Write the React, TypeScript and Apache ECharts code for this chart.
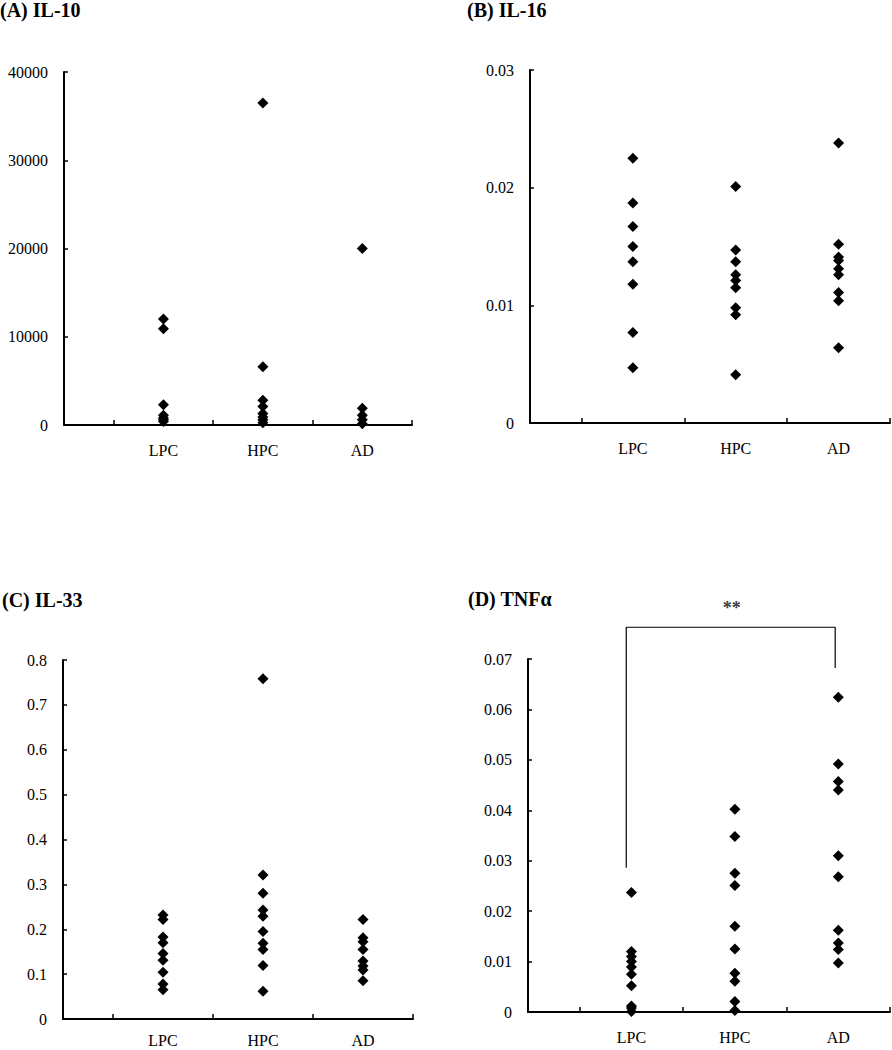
import React, { useEffect, useRef } from "react";
import * as echarts from "echarts";

const categories = ["LPC", "HPC", "AD"];
const categoryPositions = [1, 2, 3];
const xTickPositions = [0.5, 1.5, 2.5, 3.5];

const panelTitles = ["(A) IL-10", "(B) IL-16", "(C) IL-33", "(D) TNF\u03b1"];

const il10LPC = [12000, 10900, 2300, 1100, 800, 600, 400];
const il10HPC = [36500, 6600, 2800, 2100, 1300, 900, 600, 250];
const il10AD = [20000, 1900, 1100, 600, 150];

const il16LPC = [0.0225, 0.0187, 0.0167, 0.015, 0.0137, 0.0118, 0.0077, 0.0047];
const il16HPC = [0.0201, 0.0147, 0.0137, 0.0126, 0.0121, 0.0115, 0.0098, 0.0092, 0.0041];
const il16AD = [0.0238, 0.0152, 0.0141, 0.0138, 0.0131, 0.0126, 0.0111, 0.0104, 0.0064];

const il33LPC = [0.232, 0.222, 0.183, 0.17, 0.146, 0.131, 0.104, 0.078, 0.065];
const il33HPC = [0.758, 0.321, 0.28, 0.243, 0.229, 0.195, 0.169, 0.155, 0.119, 0.062];
const il33AD = [0.222, 0.181, 0.172, 0.155, 0.129, 0.118, 0.109, 0.085];

const tnfLPC = [0.0237, 0.012, 0.011, 0.01, 0.0089, 0.0075, 0.0052, 0.0012, 0.0008, 0.0001];
const tnfHPC = [0.0402, 0.0348, 0.0275, 0.0251, 0.017, 0.0125, 0.0077, 0.0061, 0.0021, 0.0003];
const tnfAD = [0.0624, 0.0492, 0.0457, 0.044, 0.031, 0.0268, 0.0162, 0.0137, 0.0124, 0.0097];

const yMax = [40000, 0.03, 0.8, 0.07];
const yInterval = [10000, 0.01, 0.1, 0.01];

// significance bracket between LPC and AD in panel D (x, value)
const bracketD = [
  [0.95, 0.0286],
  [0.95, 0.0763],
  [2.97, 0.0763],
  [2.97, 0.0682],
];
const significanceLabel = "**";
const significancePoint = [1.97, 0.0802];

const panelGroups = [
  [il10LPC, il10HPC, il10AD],
  [il16LPC, il16HPC, il16AD],
  [il33LPC, il33HPC, il33AD],
  [tnfLPC, tnfHPC, tnfAD],
];

const grids = [
  { left: 64, top: 72, width: 348, height: 353 },
  { left: 530, top: 70, width: 360, height: 353 },
  { left: 63, top: 660, width: 350, height: 359 },
  { left: 528, top: 659, width: 362, height: 353 },
];
const xLabelMargin = [17, 17, 13, 17];

const titlePos = [
  { left: 0, top: 0 },
  { left: 467, top: 0 },
  { left: 2, top: 590 },
  { left: 468, top: 589 },
];

const FONT = "'Liberation Serif', 'Times New Roman', serif";

function fmt(v: number) {
  return String(parseFloat(v.toPrecision(10)));
}

export default function App() {
  const ref = useRef<HTMLDivElement>(null);
  useEffect(() => {
    if (!ref.current) return;
    const chart = echarts.init(ref.current, null, { renderer: "svg" });

    const series: any[] = [];
    panelGroups.forEach((groups, p) => {
      const data: number[][] = [];
      groups.forEach((vals, g) => {
        vals.forEach((v) => data.push([categoryPositions[g], v]));
      });
      series.push({
        type: "scatter",
        xAxisIndex: p,
        yAxisIndex: p,
        symbol: "diamond",
        symbolSize: 11,
        itemStyle: { color: "#000", opacity: 1 },
        data,
      });
    });
    series.push({
      type: "line",
      xAxisIndex: 3,
      yAxisIndex: 3,
      clip: false,
      symbol: "none",
      lineStyle: { color: "#000", width: 1.2 },
      data: bracketD,
    });
    series.push({
      type: "scatter",
      xAxisIndex: 3,
      yAxisIndex: 3,
      clip: false,
      symbolSize: 1,
      itemStyle: { color: "rgba(0,0,0,0)" },
      label: {
        show: true,
        position: "inside",
        formatter: significanceLabel,
        color: "#000",
        fontFamily: FONT,
        fontSize: 18,
        fontWeight: "bold",
      },
      data: [significancePoint],
    });

    const option: any = {
      animation: false,
      backgroundColor: "#fff",
      title: panelTitles.map((t, i) => ({
        text: t,
        left: titlePos[i].left,
        top: titlePos[i].top,
        padding: 0,
        textStyle: {
          fontFamily: FONT,
          fontWeight: "bold",
          fontSize: 20,
          color: "#000",
        },
      })),
      grid: grids.map((g) => ({ ...g, containLabel: false, outerBoundsMode: "none" })),
      xAxis: grids.map((_, i) => ({
        type: "value",
        gridIndex: i,
        min: 0,
        max: 3.5,
        splitLine: { show: false },
        axisLine: { show: true, onZero: false, lineStyle: { color: "#000", width: 2 } },
        axisTick: {
          show: true,
          inside: true,
          length: 5,
          customValues: xTickPositions,
          lineStyle: { color: "#000", width: 1.5 },
        },
        axisLabel: {
          show: true,
          customValues: categoryPositions,
          formatter: (v: number) => categories[Math.round(v) - 1] ?? "",
          margin: xLabelMargin[i],
          color: "#000",
          fontFamily: FONT,
          fontSize: 16,
        },
      })),
      yAxis: grids.map((_, i) => ({
        type: "value",
        gridIndex: i,
        min: 0,
        max: yMax[i],
        interval: yInterval[i],
        splitLine: { show: false },
        axisLine: { show: true, lineStyle: { color: "#000", width: 2 } },
        axisTick: { show: true, inside: true, length: 4, lineStyle: { color: "#000", width: 1.5 } },
        axisLabel: {
          margin: 16,
          color: "#000",
          fontFamily: FONT,
          fontSize: 16,
          formatter: fmt,
        },
      })),
      series,
    };
    chart.setOption(option);
    return () => chart.dispose();
  }, []);

  return (
    <div
      ref={ref}
      style={{ position: "fixed", left: 0, top: 0, width: 892, height: 1050, background: "#fff" }}
    />
  );
}
